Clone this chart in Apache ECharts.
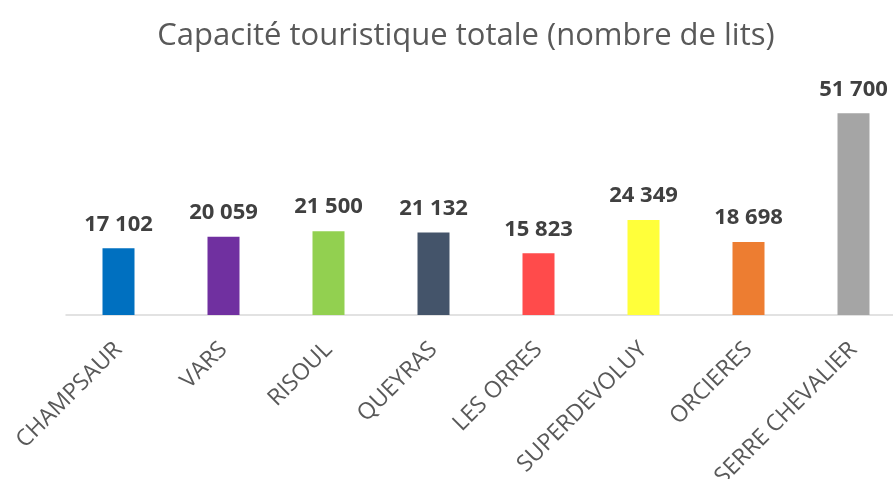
<!DOCTYPE html>
<html>
<head>
<meta charset="utf-8">
<script src="https://cdn.jsdelivr.net/npm/echarts@6/dist/echarts.min.js"></script>
<style>
  html, body { margin: 0; padding: 0; background: #fff; }
  #chart { width: 893px; height: 479px; }
</style>
</head>
<body>
<div id="chart"></div>
<script>
// stations et nombre de lits
const stations = ['CHAMPSAUR', 'VARS', 'RISOUL', 'QUEYRAS', 'LES ORRES', 'SUPERDEVOLUY', 'ORCIERES', 'SERRE CHEVALIER'];
const lits = [17102, 20059, 21500, 21132, 15823, 24349, 18698, 51700];
const couleurs = ['#0070c0', '#7030a0', '#92d050', '#44546a', '#ff4b4b', '#ffff3a', '#ed7d31', '#a5a5a5'];

// 17102 -> "17 102"
function formatLits(v) {
  return String(v).replace(/\B(?=(\d{3})+(?!\d))/g, ' ');
}

const chart = echarts.init(document.getElementById('chart'));

const option = {
  backgroundColor: '#fff',
  animation: false,
  title: {
    text: 'Capacité touristique totale (nombre de lits)',
    left: 461,
    textAlign: 'center',
    top: 16,
    textStyle: {
      fontFamily: 'Open Sans',
      fontSize: 31,
      fontWeight: 'normal',
      color: '#595959'
    }
  },
  grid: {
    left: 66,
    width: 840,
    top: 81,
    height: 234,
    outerBoundsMode: 'none',
    containLabel: false
  },
  xAxis: {
    type: 'category',
    data: stations,
    axisLine: { lineStyle: { color: '#d9d9d9', width: 1.5 } },
    axisTick: { show: false },
    axisLabel: {
      rotate: 45,
      margin: 31,
      interval: 0,
      hideOverlap: false,
      fontFamily: 'Open Sans',
      fontSize: 23,
      color: '#595959'
    }
  },
  yAxis: {
    type: 'value',
    min: 0,
    max: 60000,
    show: false,
    splitLine: { show: false }
  },
  series: [{
    type: 'bar',
    barWidth: 32,
    data: lits.map((v, i) => ({ value: v, itemStyle: { color: couleurs[i] } })),
    label: {
      show: true,
      position: 'top',
      distance: 13,
      formatter: p => formatLits(p.value),
      fontFamily: 'Open Sans',
      fontWeight: 'bold',
      fontSize: 22,
      color: '#404040'
    }
  }]
};

chart.setOption(option);
</script>
</body>
</html>
